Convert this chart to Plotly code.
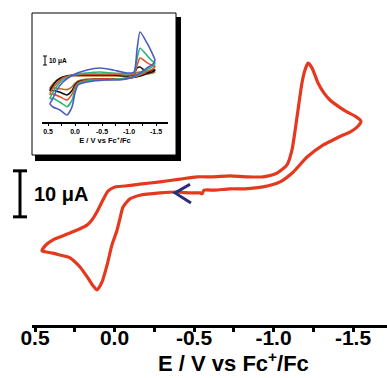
import plotly.graph_objects as go

# ---------------- data ----------------
# main cyclic voltammogram (E in V vs Fc+/Fc, I in uA)
MAIN_E = [-0.538, -0.475, -0.393, -0.286, -0.160, -0.097, -0.053, -0.035, -0.016, 0.016,
          0.047, 0.079, 0.110, 0.135, 0.167, 0.217, 0.280, 0.343, 0.387, 0.437,
          0.456, 0.437, 0.387, 0.330, 0.280, 0.217, 0.173, 0.142, 0.110, 0.072,
          0.041, -0.003, -0.066, -0.160, -0.286, -0.412, -0.519, -0.619, -0.726, -0.833,
          -0.934, -1.022, -1.085, -1.116, -1.148, -1.179, -1.198, -1.217, -1.242, -1.280,
          -1.318, -1.355, -1.412, -1.462, -1.513, -1.550, -1.531, -1.481, -1.437, -1.374,
          -1.311, -1.211, -1.123, -1.041, -0.934, -0.821, -0.726, -0.632, -0.563, -0.550,
          -0.538]
MAIN_I = [-0.2, -0.2, 0.0, -0.2, -0.7, -1.5, -3.3, -5.7, -8.3, -11.5,
          -15.9, -19.6, -21.3, -20.4, -18.7, -16.3, -14.3, -13.7, -13.3, -13.0,
          -12.8, -11.7, -10.4, -9.6, -8.9, -8.0, -7.2, -6.1, -4.3, -1.7,
          0.2, 1.1, 1.3, 1.7, 2.2, 2.8, 3.3, 3.3, 3.5, 3.3,
          3.3, 4.1, 5.9, 9.1, 16.3, 23.7, 26.5, 28.0, 27.0, 23.7,
          21.5, 20.0, 18.5, 17.4, 16.5, 15.4, 14.3, 13.0, 12.4, 11.3,
          10.2, 7.6, 4.3, 2.2, 1.1, 0.7, 0.7, 0.4, 0.4, -0.4,
          -0.2]

# scan direction arrow
ARROW_E = [-0.475, -0.381, -0.481]
ARROW_I = [1.7, -0.2, -2.4]

# inset: several scans (E in V, I in uA)
INSET_E = [-0.556, -0.222, -0.056, 0.000, 0.056, 0.148, 0.278, 0.407, 0.463, 0.426,
           0.333, 0.222, 0.037, -0.222, -0.463, -0.704, -0.963, -1.093, -1.148, -1.204,
           -1.333, -1.426, -1.481, -1.444, -1.333, -1.204, -1.019, -0.796, -0.556]
INSET_BROWN = [-2.2, -2.2, -4.4, -7.0, -11.0, -14.0, -13.0, -12.0, -12.0, -9.0,
               -3.3, 0.0, 1.1, 1.1, 1.1, 1.1, 1.1, 2.2, 5.0, 5.6,
               5.0, 5.6, 5.6, 4.4, 3.3, 1.1, -1.1, -2.2, -2.2]
INSET_BLACK = [-2.2, -3.3, -5.6, -9.0, -15.0, -20.0, -17.0, -15.0, -15.0, -11.0,
               -4.0, 0.0, 2.2, 2.2, 2.2, 2.2, 1.1, 3.3, 10.0, 11.0,
               5.6, 7.8, 7.8, 6.0, 4.0, 1.1, -1.1, -2.2, -2.2]
INSET_RED = [-2.2, -3.3, -6.7, -11.0, -19.0, -25.6, -22.0, -19.0, -19.0, -14.0,
             -7.0, -1.1, 2.2, 3.3, 3.3, 3.3, 2.2, 3.3, 13.0, 21.0,
             16.0, 13.0, 12.0, 9.0, 6.0, 2.2, -1.1, -2.2, -2.2]
INSET_GREEN = [-3.3, -4.4, -7.8, -14.0, -26.0, -33.0, -28.0, -24.0, -24.0, -19.0,
               -10.0, -3.3, 2.2, 4.4, 5.6, 4.4, 3.3, 4.4, 20.0, 32.0,
               24.0, 18.0, 15.6, 12.0, 8.0, 3.3, -1.1, -2.2, -3.3]
INSET_BLUE = [-3.3, -5.6, -8.9, -17.8, -33.3, -42.2, -36.7, -33.3, -30.0, -25.6,
              -14.4, -5.6, 2.2, 7.8, 10.0, 7.8, 4.4, 5.6, 30.0, 50.0,
              37.8, 26.7, 18.9, 14.4, 10.0, 4.4, -1.1, -3.3, -3.3]

TICK_VALS = [0.5, 0.0, -0.5, -1.0, -1.5]
TICK_TEXT = ["0.5", "0.0", "-0.5", "-1.0", "-1.5"]
MINOR_TICKS = [0.25, -0.25, -0.75, -1.25]
X_TITLE = "E / V vs Fc<sup>+</sup>/Fc"
SCALE_UA = 10.0           # scale bar, uA
SCALE_BASE_MAIN = -5.4    # bottom of main scale bar (uA)
SCALE_BASE_INSET = 13.3   # bottom of inset scale bar (uA)

# ---------------- layout helpers ----------------
W, H = 387, 378
ML, MR, MT, MB = 32, 0, 0, 53
PW, PH = W - ML - MR, H - MT - MB


def px(x):
    return (x - ML) / PW


def py(y):
    return (H - MB - y) / PH


FONT = "Liberation Sans, Arial, sans-serif"
RED = "#e5391f"

fig = go.Figure()

fig.add_trace(go.Scatter(x=MAIN_E, y=MAIN_I, mode="lines",
                         line=dict(color=RED, width=3.2, shape="spline", smoothing=0.6),
                         hoverinfo="skip", showlegend=False))
fig.add_trace(go.Scatter(x=ARROW_E, y=ARROW_I, mode="lines",
                         line=dict(color="#2a2c7a", width=3),
                         hoverinfo="skip", showlegend=False))

inset_series = [(INSET_BROWN, "#b8732e"), (INSET_BLACK, "#111111"),
                (INSET_RED, "#e8502a"), (INSET_GREEN, "#2db37a"),
                (INSET_BLUE, "#4b5cc4")]
for ys, col in inset_series:
    fig.add_trace(go.Scatter(x=INSET_E, y=ys, mode="lines", xaxis="x2", yaxis="y2",
                             line=dict(color=col, width=1.6, shape="spline", smoothing=0.6),
                             hoverinfo="skip", showlegend=False))

shapes = [
    # inset shadow + box
    dict(type="rect", xref="paper", yref="paper", x0=px(35), x1=px(181), y0=py(161), y1=py(17),
         fillcolor="black", line=dict(width=0), layer="below"),
    dict(type="rect", xref="paper", yref="paper", x0=px(32), x1=px(176), y0=py(155), y1=py(13),
         fillcolor="white", line=dict(color="black", width=1), layer="below"),
    # main scale bar
    dict(type="line", xref="paper", yref="y", x0=px(20), x1=px(20),
         y0=SCALE_BASE_MAIN, y1=SCALE_BASE_MAIN + SCALE_UA, line=dict(color="black", width=3)),
    dict(type="line", xref="paper", yref="y", x0=px(13), x1=px(27),
         y0=SCALE_BASE_MAIN, y1=SCALE_BASE_MAIN, line=dict(color="black", width=3)),
    dict(type="line", xref="paper", yref="y", x0=px(13), x1=px(27),
         y0=SCALE_BASE_MAIN + SCALE_UA, y1=SCALE_BASE_MAIN + SCALE_UA, line=dict(color="black", width=3)),
    # inset scale bar
    dict(type="line", xref="paper", yref="y2", x0=px(45), x1=px(45),
         y0=SCALE_BASE_INSET, y1=SCALE_BASE_INSET + SCALE_UA, line=dict(color="black", width=1)),
    dict(type="line", xref="paper", yref="y2", x0=px(43), x1=px(47),
         y0=SCALE_BASE_INSET, y1=SCALE_BASE_INSET, line=dict(color="black", width=1)),
    dict(type="line", xref="paper", yref="y2", x0=px(43), x1=px(47),
         y0=SCALE_BASE_INSET + SCALE_UA, y1=SCALE_BASE_INSET + SCALE_UA, line=dict(color="black", width=1)),
]

annotations = [
    dict(text="10 \u03bcA", xref="paper", yref="y", x=px(32), y=SCALE_BASE_MAIN + SCALE_UA / 2,
         xanchor="left", yanchor="middle", showarrow=False,
         font=dict(family=FONT, size=20, color="black", weight="bold")),
    dict(text="10 \u03bcA", xref="paper", yref="y2", x=px(47), y=SCALE_BASE_INSET + SCALE_UA / 2,
         xanchor="left", yanchor="middle", showarrow=False,
         font=dict(family=FONT, size=6.5, color="black", weight="bold")),
    dict(text=X_TITLE, xref="paper", yref="paper", x=px(233), y=py(362),
         xanchor="center", yanchor="middle", showarrow=False,
         font=dict(family=FONT, size=22, color="black", weight="bold")),
]

fig.update_layout(
    width=W, height=H,
    margin=dict(l=ML, r=MR, t=MT, b=MB, pad=0),
    paper_bgcolor="white", plot_bgcolor="rgba(0,0,0,0)",
    shapes=shapes, annotations=annotations,
    xaxis=dict(range=[0.5 + 3 / 159, 0.5 - 352 / 159], showline=True, linewidth=3, linecolor="black",
               ticks="outside", ticklen=4, tickwidth=3, tickcolor="black",
               tickmode="array", tickvals=TICK_VALS, ticktext=TICK_TEXT,
               ticklabelstandoff=-12,
               minor=dict(tickmode="array", tickvals=MINOR_TICKS, ticks="outside", ticklen=4,
                          tickwidth=3, tickcolor="black"),
               showgrid=False, zeroline=False,
               tickfont=dict(family=FONT, size=21, color="black", weight="bold")),
    yaxis=dict(visible=False, range=[(192 - 325) / 4.6, 192 / 4.6]),
    xaxis2=dict(domain=[px(42), px(168)], anchor="y2", range=[0.5 + 6 / 54, 0.5 - 120 / 54],
                showline=True, linewidth=1.5, linecolor="black",
                ticks="outside", ticklen=2, tickwidth=1.2, tickcolor="black",
                tickmode="array", tickvals=TICK_VALS, ticktext=TICK_TEXT,
                minor=dict(tickmode="array", tickvals=MINOR_TICKS, ticks="outside", ticklen=2,
                           tickwidth=1.2, tickcolor="black"),
                showgrid=False, zeroline=False,
                tickfont=dict(family=FONT, size=7, color="black", weight="bold"),
                title=dict(text=X_TITLE, standoff=2,
                           font=dict(family=FONT, size=7.5, color="black", weight="bold"))),
    yaxis2=dict(domain=[py(122), py(20)], anchor="x2", range=[-50, 63.3], visible=False),
)

fig.write_html("out.html")
